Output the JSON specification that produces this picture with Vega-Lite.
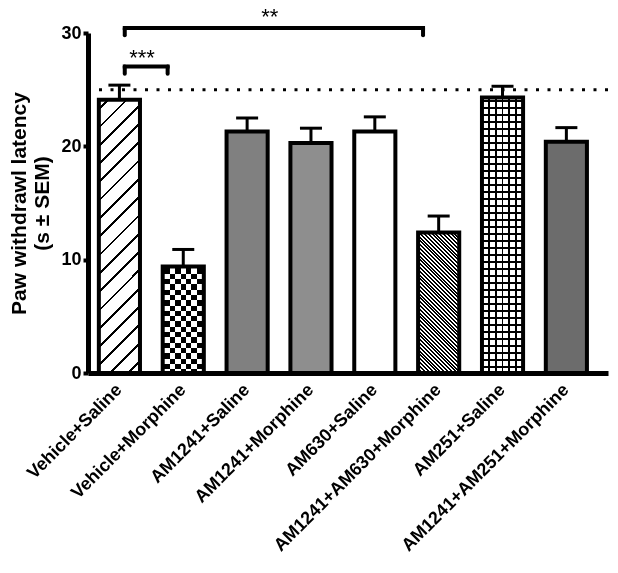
{
  "$schema": "https://vega.github.io/schema/vega-lite/v6.json",
  "width": 520,
  "height": 340,
  "autosize": {"type": "none"},
  "padding": {"left": 88, "top": 33, "right": 10, "bottom": 200},
  "background": "white",
  "config": {
    "view": {"stroke": null},
    "font": "Liberation Sans",
    "axis": {
      "domainColor": "black", "domainWidth": 5, "tickColor": "black",
      "labelColor": "black", "labelFont": "Liberation Sans", "labelFontWeight": "bold",
      "titleFont": "Liberation Sans", "titleFontWeight": "bold", "titleColor": "black", "grid": false
    },
    "axisX": {"labelAngle": -45, "labelAlign": "right", "labelBaseline": "middle", "labelFontSize": 18, "ticks": false, "labelPadding": 14, "labelOffset": 0, "labelLimit": 400},
    "axisY": {"tickSize": 5, "tickWidth": 4, "labelFontSize": 18, "labelPadding": 2, "titleFontSize": 21, "titlePadding": 8}
  },
  "datasets": {
    "groups": [
      {"group": "Vehicle+Saline", "mean": 24.1, "upper": 25.4},
      {"group": "Vehicle+Morphine", "mean": 9.4, "upper": 10.9},
      {"group": "AM1241+Saline", "mean": 21.3, "upper": 22.5},
      {"group": "AM1241+Morphine", "mean": 20.3, "upper": 21.6},
      {"group": "AM630+Saline", "mean": 21.3, "upper": 22.6},
      {"group": "AM1241+AM630+Morphine", "mean": 12.4, "upper": 13.85},
      {"group": "AM251+Saline", "mean": 24.3, "upper": 25.3},
      {"group": "AM1241+AM251+Morphine", "mean": 20.4, "upper": 21.65}
    ],
    "ref": [{"level": 25}],
    "brackets": [
      {"from": "Vehicle+Saline", "to": "Vehicle+Morphine", "top": 27.05, "end": 26.4, "stars": "***", "at": "Vehicle+Saline", "ty": 27.2},
      {"from": "Vehicle+Saline", "to": "AM1241+AM630+Morphine", "top": 30.45, "end": 29.8, "stars": "**", "at": "AM1241+Saline", "ty": 30.77}
    ]
  },
  "layer": [
    {
      "data": {"name": "ref"},
      "mark": {"type": "rule", "color": "black", "strokeWidth": 3, "strokeDash": [3, 8.5]},
      "encoding": {
        "y": {"field": "level", "type": "quantitative", "scale": {"domain": [0, 30], "nice": false}, "title": ["Paw withdrawl latency", "(s ± SEM)"]}
      }
    },
    {
      "data": {"name": "groups"},
      "mark": {"type": "rule", "color": "black", "strokeWidth": 3},
      "encoding": {
        "x": {"field": "group", "type": "nominal", "title": null, "sort": null},
        "y": {"field": "mean", "type": "quantitative", "title": ["Paw withdrawl latency", "(s ± SEM)"]},
        "y2": {"field": "upper"}
      }
    },
    {
      "data": {"name": "groups"},
      "mark": {"type": "bar", "strokeWidth": 0},
      "encoding": {
        "x": {"field": "group", "type": "nominal", "title": null, "sort": null, "scale": {"paddingInner": 0.356, "paddingOuter": 0.25, "align": 0.34}},
        "y": {"field": "mean", "type": "quantitative", "title": ["Paw withdrawl latency", "(s ± SEM)"]},
        "fill": {
          "field": "group", "type": "nominal", "legend": null,
          "scale": {
            "domain": ["Vehicle+Saline", "Vehicle+Morphine", "AM1241+Saline", "AM1241+Morphine", "AM630+Saline", "AM1241+AM630+Morphine", "AM251+Saline", "AM1241+AM251+Morphine"],
            "range": ["#ffffff", "#ffffff", "#808080", "#8e8e8e", "#ffffff", "#ffffff", "#ffffff", "#6c6c6c"]
          }
        }
      }
    },
    {
      "data": {"name": "groups"},
      "transform": [{"filter": "datum.group === 'Vehicle+Saline'"}],
      "mark": {"type": "bar", "strokeWidth": 0, "fill": {"gradient": "linear", "x1": 0, "y1": 0, "x2": 0.1694, "y2": 1.125, "stops": [
        {"offset": 0, "color": "#fff"},
        {"offset": 0.025, "color": "#fff"}, {"offset": 0.025, "color": "#000"}, {"offset": 0.034, "color": "#000"}, {"offset": 0.034, "color": "#fff"},
        {"offset": 0.084, "color": "#fff"}, {"offset": 0.084, "color": "#000"}, {"offset": 0.092, "color": "#000"}, {"offset": 0.092, "color": "#fff"},
        {"offset": 0.142, "color": "#fff"}, {"offset": 0.142, "color": "#000"}, {"offset": 0.151, "color": "#000"}, {"offset": 0.151, "color": "#fff"},
        {"offset": 0.200, "color": "#fff"}, {"offset": 0.200, "color": "#000"}, {"offset": 0.209, "color": "#000"}, {"offset": 0.209, "color": "#fff"},
        {"offset": 0.258, "color": "#fff"}, {"offset": 0.258, "color": "#000"}, {"offset": 0.267, "color": "#000"}, {"offset": 0.267, "color": "#fff"},
        {"offset": 0.317, "color": "#fff"}, {"offset": 0.317, "color": "#000"}, {"offset": 0.325, "color": "#000"}, {"offset": 0.325, "color": "#fff"},
        {"offset": 0.375, "color": "#fff"}, {"offset": 0.375, "color": "#000"}, {"offset": 0.383, "color": "#000"}, {"offset": 0.383, "color": "#fff"},
        {"offset": 0.433, "color": "#fff"}, {"offset": 0.433, "color": "#000"}, {"offset": 0.442, "color": "#000"}, {"offset": 0.442, "color": "#fff"},
        {"offset": 0.491, "color": "#fff"}, {"offset": 0.491, "color": "#000"}, {"offset": 0.500, "color": "#000"}, {"offset": 0.500, "color": "#fff"},
        {"offset": 0.550, "color": "#fff"}, {"offset": 0.550, "color": "#000"}, {"offset": 0.558, "color": "#000"}, {"offset": 0.558, "color": "#fff"},
        {"offset": 0.608, "color": "#fff"}, {"offset": 0.608, "color": "#000"}, {"offset": 0.616, "color": "#000"}, {"offset": 0.616, "color": "#fff"},
        {"offset": 0.666, "color": "#fff"}, {"offset": 0.666, "color": "#000"}, {"offset": 0.675, "color": "#000"}, {"offset": 0.675, "color": "#fff"},
        {"offset": 0.724, "color": "#fff"}, {"offset": 0.724, "color": "#000"}, {"offset": 0.733, "color": "#000"}, {"offset": 0.733, "color": "#fff"},
        {"offset": 0.783, "color": "#fff"}, {"offset": 0.783, "color": "#000"}, {"offset": 0.791, "color": "#000"}, {"offset": 0.791, "color": "#fff"},
        {"offset": 0.841, "color": "#fff"}, {"offset": 0.841, "color": "#000"}, {"offset": 0.849, "color": "#000"}, {"offset": 0.849, "color": "#fff"},
        {"offset": 0.899, "color": "#fff"}, {"offset": 0.899, "color": "#000"}, {"offset": 0.908, "color": "#000"}, {"offset": 0.908, "color": "#fff"},
        {"offset": 0.957, "color": "#fff"}, {"offset": 0.957, "color": "#000"}, {"offset": 0.966, "color": "#000"}, {"offset": 0.966, "color": "#fff"},
        {"offset": 1, "color": "#fff"}
      ]}},
      "encoding": {
        "x": {"field": "group", "type": "nominal", "title": null, "sort": null},
        "y": {"field": "mean", "type": "quantitative", "title": ["Paw withdrawl latency", "(s ± SEM)"]}
      }
    },
    {
      "data": {"name": "groups"},
      "transform": [{"filter": "datum.group === 'Vehicle+Morphine'"}],
      "mark": {"type": "bar", "strokeWidth": 0, "fill": {"gradient": "linear", "x1": 0, "y1": 0, "x2": 0, "y2": 1, "stops": [
        {"offset": 0, "color": "#fff"},
        {"offset": 0.0188, "color": "#fff"}, {"offset": 0.0188, "color": "#000"}, {"offset": 0.0685, "color": "#000"}, {"offset": 0.0685, "color": "#fff"},
        {"offset": 0.1183, "color": "#fff"}, {"offset": 0.1183, "color": "#000"}, {"offset": 0.1680, "color": "#000"}, {"offset": 0.1680, "color": "#fff"},
        {"offset": 0.2178, "color": "#fff"}, {"offset": 0.2178, "color": "#000"}, {"offset": 0.2675, "color": "#000"}, {"offset": 0.2675, "color": "#fff"},
        {"offset": 0.3173, "color": "#fff"}, {"offset": 0.3173, "color": "#000"}, {"offset": 0.3670, "color": "#000"}, {"offset": 0.3670, "color": "#fff"},
        {"offset": 0.4168, "color": "#fff"}, {"offset": 0.4168, "color": "#000"}, {"offset": 0.4665, "color": "#000"}, {"offset": 0.4665, "color": "#fff"},
        {"offset": 0.5163, "color": "#fff"}, {"offset": 0.5163, "color": "#000"}, {"offset": 0.5660, "color": "#000"}, {"offset": 0.5660, "color": "#fff"},
        {"offset": 0.6158, "color": "#fff"}, {"offset": 0.6158, "color": "#000"}, {"offset": 0.6655, "color": "#000"}, {"offset": 0.6655, "color": "#fff"},
        {"offset": 0.7153, "color": "#fff"}, {"offset": 0.7153, "color": "#000"}, {"offset": 0.7650, "color": "#000"}, {"offset": 0.7650, "color": "#fff"},
        {"offset": 0.8148, "color": "#fff"}, {"offset": 0.8148, "color": "#000"}, {"offset": 0.8645, "color": "#000"}, {"offset": 0.8645, "color": "#fff"},
        {"offset": 0.9143, "color": "#fff"}, {"offset": 0.9143, "color": "#000"}, {"offset": 0.9640, "color": "#000"}, {"offset": 0.9640, "color": "#fff"},
        {"offset": 1, "color": "#fff"}
      ]}},
      "encoding": {
        "x": {"field": "group", "type": "nominal", "title": null, "sort": null},
        "y": {"field": "mean", "type": "quantitative", "title": ["Paw withdrawl latency", "(s ± SEM)"]}
      }
    },
    {
      "data": {"name": "groups"},
      "transform": [{"filter": "datum.group === 'Vehicle+Morphine'"}],
      "mark": {"type": "bar", "strokeWidth": 0, "blend": "difference", "fill": {"gradient": "linear", "x1": 0, "y1": 0, "x2": 1, "y2": 0, "stops": [
        {"offset": 0, "color": "rgba(255,255,255,0)"},
        {"offset": 0.1775, "color": "rgba(255,255,255,0)"}, {"offset": 0.1775, "color": "#fff"}, {"offset": 0.3064, "color": "#fff"}, {"offset": 0.3064, "color": "rgba(255,255,255,0)"},
        {"offset": 0.4353, "color": "rgba(255,255,255,0)"}, {"offset": 0.4353, "color": "#fff"}, {"offset": 0.5642, "color": "#fff"}, {"offset": 0.5642, "color": "rgba(255,255,255,0)"},
        {"offset": 0.6931, "color": "rgba(255,255,255,0)"}, {"offset": 0.6931, "color": "#fff"}, {"offset": 0.8220, "color": "#fff"}, {"offset": 0.8220, "color": "rgba(255,255,255,0)"},
        {"offset": 0.9509, "color": "rgba(255,255,255,0)"}, {"offset": 0.9509, "color": "#fff"}, {"offset": 1, "color": "#fff"}
      ]}},
      "encoding": {
        "x": {"field": "group", "type": "nominal", "title": null, "sort": null},
        "y": {"field": "mean", "type": "quantitative", "title": ["Paw withdrawl latency", "(s ± SEM)"]}
      }
    },
    {
      "data": {"name": "groups"},
      "transform": [{"filter": "datum.group === 'AM1241+AM630+Morphine'"}],
      "mark": {"type": "bar", "strokeWidth": 0, "fill": {"gradient": "linear", "x1": 0, "y1": 1, "x2": 0.3484, "y2": -0.1907, "stops": [
        {"offset": 0, "color": "#000"}, {"offset": 0.0105, "color": "#000"}, {"offset": 0.0105, "color": "#fff"},
        {"offset": 0.0209, "color": "#fff"}, {"offset": 0.0209, "color": "#000"}, {"offset": 0.0314, "color": "#000"}, {"offset": 0.0314, "color": "#fff"},
        {"offset": 0.0418, "color": "#fff"}, {"offset": 0.0418, "color": "#000"}, {"offset": 0.0523, "color": "#000"}, {"offset": 0.0523, "color": "#fff"},
        {"offset": 0.0628, "color": "#fff"}, {"offset": 0.0628, "color": "#000"}, {"offset": 0.0732, "color": "#000"}, {"offset": 0.0732, "color": "#fff"},
        {"offset": 0.0837, "color": "#fff"}, {"offset": 0.0837, "color": "#000"}, {"offset": 0.0941, "color": "#000"}, {"offset": 0.0941, "color": "#fff"},
        {"offset": 0.1046, "color": "#fff"}, {"offset": 0.1046, "color": "#000"}, {"offset": 0.1151, "color": "#000"}, {"offset": 0.1151, "color": "#fff"},
        {"offset": 0.1255, "color": "#fff"}, {"offset": 0.1255, "color": "#000"}, {"offset": 0.1360, "color": "#000"}, {"offset": 0.1360, "color": "#fff"},
        {"offset": 0.1464, "color": "#fff"}, {"offset": 0.1464, "color": "#000"}, {"offset": 0.1569, "color": "#000"}, {"offset": 0.1569, "color": "#fff"},
        {"offset": 0.1674, "color": "#fff"}, {"offset": 0.1674, "color": "#000"}, {"offset": 0.1778, "color": "#000"}, {"offset": 0.1778, "color": "#fff"},
        {"offset": 0.1883, "color": "#fff"}, {"offset": 0.1883, "color": "#000"}, {"offset": 0.1987, "color": "#000"}, {"offset": 0.1987, "color": "#fff"},
        {"offset": 0.2092, "color": "#fff"}, {"offset": 0.2092, "color": "#000"}, {"offset": 0.2197, "color": "#000"}, {"offset": 0.2197, "color": "#fff"},
        {"offset": 0.2301, "color": "#fff"}, {"offset": 0.2301, "color": "#000"}, {"offset": 0.2406, "color": "#000"}, {"offset": 0.2406, "color": "#fff"},
        {"offset": 0.2510, "color": "#fff"}, {"offset": 0.2510, "color": "#000"}, {"offset": 0.2615, "color": "#000"}, {"offset": 0.2615, "color": "#fff"},
        {"offset": 0.2719, "color": "#fff"}, {"offset": 0.2719, "color": "#000"}, {"offset": 0.2824, "color": "#000"}, {"offset": 0.2824, "color": "#fff"},
        {"offset": 0.2929, "color": "#fff"}, {"offset": 0.2929, "color": "#000"}, {"offset": 0.3033, "color": "#000"}, {"offset": 0.3033, "color": "#fff"},
        {"offset": 0.3138, "color": "#fff"}, {"offset": 0.3138, "color": "#000"}, {"offset": 0.3242, "color": "#000"}, {"offset": 0.3242, "color": "#fff"},
        {"offset": 0.3347, "color": "#fff"}, {"offset": 0.3347, "color": "#000"}, {"offset": 0.3452, "color": "#000"}, {"offset": 0.3452, "color": "#fff"},
        {"offset": 0.3556, "color": "#fff"}, {"offset": 0.3556, "color": "#000"}, {"offset": 0.3661, "color": "#000"}, {"offset": 0.3661, "color": "#fff"},
        {"offset": 0.3765, "color": "#fff"}, {"offset": 0.3765, "color": "#000"}, {"offset": 0.3870, "color": "#000"}, {"offset": 0.3870, "color": "#fff"},
        {"offset": 0.3975, "color": "#fff"}, {"offset": 0.3975, "color": "#000"}, {"offset": 0.4079, "color": "#000"}, {"offset": 0.4079, "color": "#fff"},
        {"offset": 0.4184, "color": "#fff"}, {"offset": 0.4184, "color": "#000"}, {"offset": 0.4288, "color": "#000"}, {"offset": 0.4288, "color": "#fff"},
        {"offset": 0.4393, "color": "#fff"}, {"offset": 0.4393, "color": "#000"}, {"offset": 0.4497, "color": "#000"}, {"offset": 0.4497, "color": "#fff"},
        {"offset": 0.4602, "color": "#fff"}, {"offset": 0.4602, "color": "#000"}, {"offset": 0.4707, "color": "#000"}, {"offset": 0.4707, "color": "#fff"},
        {"offset": 0.4811, "color": "#fff"}, {"offset": 0.4811, "color": "#000"}, {"offset": 0.4916, "color": "#000"}, {"offset": 0.4916, "color": "#fff"},
        {"offset": 0.5021, "color": "#fff"}, {"offset": 0.5021, "color": "#000"}, {"offset": 0.5125, "color": "#000"}, {"offset": 0.5125, "color": "#fff"},
        {"offset": 0.5230, "color": "#fff"}, {"offset": 0.5230, "color": "#000"}, {"offset": 0.5334, "color": "#000"}, {"offset": 0.5334, "color": "#fff"},
        {"offset": 0.5439, "color": "#fff"}, {"offset": 0.5439, "color": "#000"}, {"offset": 0.5543, "color": "#000"}, {"offset": 0.5543, "color": "#fff"},
        {"offset": 0.5648, "color": "#fff"}, {"offset": 0.5648, "color": "#000"}, {"offset": 0.5753, "color": "#000"}, {"offset": 0.5753, "color": "#fff"},
        {"offset": 0.5857, "color": "#fff"}, {"offset": 0.5857, "color": "#000"}, {"offset": 0.5962, "color": "#000"}, {"offset": 0.5962, "color": "#fff"},
        {"offset": 0.6067, "color": "#fff"}, {"offset": 0.6067, "color": "#000"}, {"offset": 0.6171, "color": "#000"}, {"offset": 0.6171, "color": "#fff"},
        {"offset": 0.6276, "color": "#fff"}, {"offset": 0.6276, "color": "#000"}, {"offset": 0.6380, "color": "#000"}, {"offset": 0.6380, "color": "#fff"},
        {"offset": 0.6485, "color": "#fff"}, {"offset": 0.6485, "color": "#000"}, {"offset": 0.6589, "color": "#000"}, {"offset": 0.6589, "color": "#fff"},
        {"offset": 0.6694, "color": "#fff"}, {"offset": 0.6694, "color": "#000"}, {"offset": 0.6799, "color": "#000"}, {"offset": 0.6799, "color": "#fff"},
        {"offset": 0.6903, "color": "#fff"}, {"offset": 0.6903, "color": "#000"}, {"offset": 0.7008, "color": "#000"}, {"offset": 0.7008, "color": "#fff"},
        {"offset": 0.7112, "color": "#fff"}, {"offset": 0.7112, "color": "#000"}, {"offset": 0.7217, "color": "#000"}, {"offset": 0.7217, "color": "#fff"},
        {"offset": 0.7322, "color": "#fff"}, {"offset": 0.7322, "color": "#000"}, {"offset": 0.7426, "color": "#000"}, {"offset": 0.7426, "color": "#fff"},
        {"offset": 0.7531, "color": "#fff"}, {"offset": 0.7531, "color": "#000"}, {"offset": 0.7635, "color": "#000"}, {"offset": 0.7635, "color": "#fff"},
        {"offset": 0.7740, "color": "#fff"}, {"offset": 0.7740, "color": "#000"}, {"offset": 0.7844, "color": "#000"}, {"offset": 0.7844, "color": "#fff"},
        {"offset": 0.7949, "color": "#fff"}, {"offset": 0.7949, "color": "#000"}, {"offset": 0.8054, "color": "#000"}, {"offset": 0.8054, "color": "#fff"},
        {"offset": 0.8158, "color": "#fff"}, {"offset": 0.8158, "color": "#000"}, {"offset": 0.8263, "color": "#000"}, {"offset": 0.8263, "color": "#fff"},
        {"offset": 0.8368, "color": "#fff"}, {"offset": 0.8368, "color": "#000"}, {"offset": 0.8472, "color": "#000"}, {"offset": 0.8472, "color": "#fff"},
        {"offset": 0.8577, "color": "#fff"}, {"offset": 0.8577, "color": "#000"}, {"offset": 0.8681, "color": "#000"}, {"offset": 0.8681, "color": "#fff"},
        {"offset": 0.8786, "color": "#fff"}, {"offset": 0.8786, "color": "#000"}, {"offset": 0.8891, "color": "#000"}, {"offset": 0.8891, "color": "#fff"},
        {"offset": 0.8995, "color": "#fff"}, {"offset": 0.8995, "color": "#000"}, {"offset": 0.9100, "color": "#000"}, {"offset": 0.9100, "color": "#fff"},
        {"offset": 0.9204, "color": "#fff"}, {"offset": 0.9204, "color": "#000"}, {"offset": 0.9309, "color": "#000"}, {"offset": 0.9309, "color": "#fff"},
        {"offset": 0.9414, "color": "#fff"}, {"offset": 0.9414, "color": "#000"}, {"offset": 0.9518, "color": "#000"}, {"offset": 0.9518, "color": "#fff"},
        {"offset": 0.9623, "color": "#fff"}, {"offset": 0.9623, "color": "#000"}, {"offset": 0.9727, "color": "#000"}, {"offset": 0.9727, "color": "#fff"},
        {"offset": 0.9832, "color": "#fff"}, {"offset": 0.9832, "color": "#000"}, {"offset": 0.9936, "color": "#000"}, {"offset": 0.9936, "color": "#fff"},
        {"offset": 1, "color": "#fff"}
      ]}},
      "encoding": {
        "x": {"field": "group", "type": "nominal", "title": null, "sort": null},
        "y": {"field": "mean", "type": "quantitative", "title": ["Paw withdrawl latency", "(s ± SEM)"]}
      }
    },
    {
      "data": {"name": "groups"},
      "transform": [{"filter": "datum.group === 'AM251+Saline'"}],
      "mark": {"type": "bar", "strokeWidth": 0, "fill": {"gradient": "linear", "x1": 0, "y1": 0, "x2": 0, "y2": 1, "stops": [
        {"offset": 0, "color": "#fff"},
        {"offset": 0.0094, "color": "#fff"}, {"offset": 0.0094, "color": "#000"}, {"offset": 0.0160, "color": "#000"}, {"offset": 0.0160, "color": "#fff"},
        {"offset": 0.0349, "color": "#fff"}, {"offset": 0.0349, "color": "#000"}, {"offset": 0.0414, "color": "#000"}, {"offset": 0.0414, "color": "#fff"},
        {"offset": 0.0603, "color": "#fff"}, {"offset": 0.0603, "color": "#000"}, {"offset": 0.0668, "color": "#000"}, {"offset": 0.0668, "color": "#fff"},
        {"offset": 0.0857, "color": "#fff"}, {"offset": 0.0857, "color": "#000"}, {"offset": 0.0922, "color": "#000"}, {"offset": 0.0922, "color": "#fff"},
        {"offset": 0.1111, "color": "#fff"}, {"offset": 0.1111, "color": "#000"}, {"offset": 0.1177, "color": "#000"}, {"offset": 0.1177, "color": "#fff"},
        {"offset": 0.1365, "color": "#fff"}, {"offset": 0.1365, "color": "#000"}, {"offset": 0.1431, "color": "#000"}, {"offset": 0.1431, "color": "#fff"},
        {"offset": 0.1619, "color": "#fff"}, {"offset": 0.1619, "color": "#000"}, {"offset": 0.1685, "color": "#000"}, {"offset": 0.1685, "color": "#fff"},
        {"offset": 0.1874, "color": "#fff"}, {"offset": 0.1874, "color": "#000"}, {"offset": 0.1939, "color": "#000"}, {"offset": 0.1939, "color": "#fff"},
        {"offset": 0.2128, "color": "#fff"}, {"offset": 0.2128, "color": "#000"}, {"offset": 0.2193, "color": "#000"}, {"offset": 0.2193, "color": "#fff"},
        {"offset": 0.2382, "color": "#fff"}, {"offset": 0.2382, "color": "#000"}, {"offset": 0.2447, "color": "#000"}, {"offset": 0.2447, "color": "#fff"},
        {"offset": 0.2636, "color": "#fff"}, {"offset": 0.2636, "color": "#000"}, {"offset": 0.2702, "color": "#000"}, {"offset": 0.2702, "color": "#fff"},
        {"offset": 0.2890, "color": "#fff"}, {"offset": 0.2890, "color": "#000"}, {"offset": 0.2956, "color": "#000"}, {"offset": 0.2956, "color": "#fff"},
        {"offset": 0.3145, "color": "#fff"}, {"offset": 0.3145, "color": "#000"}, {"offset": 0.3210, "color": "#000"}, {"offset": 0.3210, "color": "#fff"},
        {"offset": 0.3399, "color": "#fff"}, {"offset": 0.3399, "color": "#000"}, {"offset": 0.3464, "color": "#000"}, {"offset": 0.3464, "color": "#fff"},
        {"offset": 0.3653, "color": "#fff"}, {"offset": 0.3653, "color": "#000"}, {"offset": 0.3718, "color": "#000"}, {"offset": 0.3718, "color": "#fff"},
        {"offset": 0.3907, "color": "#fff"}, {"offset": 0.3907, "color": "#000"}, {"offset": 0.3973, "color": "#000"}, {"offset": 0.3973, "color": "#fff"},
        {"offset": 0.4161, "color": "#fff"}, {"offset": 0.4161, "color": "#000"}, {"offset": 0.4227, "color": "#000"}, {"offset": 0.4227, "color": "#fff"},
        {"offset": 0.4416, "color": "#fff"}, {"offset": 0.4416, "color": "#000"}, {"offset": 0.4481, "color": "#000"}, {"offset": 0.4481, "color": "#fff"},
        {"offset": 0.4670, "color": "#fff"}, {"offset": 0.4670, "color": "#000"}, {"offset": 0.4735, "color": "#000"}, {"offset": 0.4735, "color": "#fff"},
        {"offset": 0.4924, "color": "#fff"}, {"offset": 0.4924, "color": "#000"}, {"offset": 0.4989, "color": "#000"}, {"offset": 0.4989, "color": "#fff"},
        {"offset": 0.5178, "color": "#fff"}, {"offset": 0.5178, "color": "#000"}, {"offset": 0.5244, "color": "#000"}, {"offset": 0.5244, "color": "#fff"},
        {"offset": 0.5432, "color": "#fff"}, {"offset": 0.5432, "color": "#000"}, {"offset": 0.5498, "color": "#000"}, {"offset": 0.5498, "color": "#fff"},
        {"offset": 0.5686, "color": "#fff"}, {"offset": 0.5686, "color": "#000"}, {"offset": 0.5752, "color": "#000"}, {"offset": 0.5752, "color": "#fff"},
        {"offset": 0.5941, "color": "#fff"}, {"offset": 0.5941, "color": "#000"}, {"offset": 0.6006, "color": "#000"}, {"offset": 0.6006, "color": "#fff"},
        {"offset": 0.6195, "color": "#fff"}, {"offset": 0.6195, "color": "#000"}, {"offset": 0.6260, "color": "#000"}, {"offset": 0.6260, "color": "#fff"},
        {"offset": 0.6449, "color": "#fff"}, {"offset": 0.6449, "color": "#000"}, {"offset": 0.6514, "color": "#000"}, {"offset": 0.6514, "color": "#fff"},
        {"offset": 0.6703, "color": "#fff"}, {"offset": 0.6703, "color": "#000"}, {"offset": 0.6769, "color": "#000"}, {"offset": 0.6769, "color": "#fff"},
        {"offset": 0.6957, "color": "#fff"}, {"offset": 0.6957, "color": "#000"}, {"offset": 0.7023, "color": "#000"}, {"offset": 0.7023, "color": "#fff"},
        {"offset": 0.7212, "color": "#fff"}, {"offset": 0.7212, "color": "#000"}, {"offset": 0.7277, "color": "#000"}, {"offset": 0.7277, "color": "#fff"},
        {"offset": 0.7466, "color": "#fff"}, {"offset": 0.7466, "color": "#000"}, {"offset": 0.7531, "color": "#000"}, {"offset": 0.7531, "color": "#fff"},
        {"offset": 0.7720, "color": "#fff"}, {"offset": 0.7720, "color": "#000"}, {"offset": 0.7785, "color": "#000"}, {"offset": 0.7785, "color": "#fff"},
        {"offset": 0.7974, "color": "#fff"}, {"offset": 0.7974, "color": "#000"}, {"offset": 0.8040, "color": "#000"}, {"offset": 0.8040, "color": "#fff"},
        {"offset": 0.8228, "color": "#fff"}, {"offset": 0.8228, "color": "#000"}, {"offset": 0.8294, "color": "#000"}, {"offset": 0.8294, "color": "#fff"},
        {"offset": 0.8482, "color": "#fff"}, {"offset": 0.8482, "color": "#000"}, {"offset": 0.8548, "color": "#000"}, {"offset": 0.8548, "color": "#fff"},
        {"offset": 0.8737, "color": "#fff"}, {"offset": 0.8737, "color": "#000"}, {"offset": 0.8802, "color": "#000"}, {"offset": 0.8802, "color": "#fff"},
        {"offset": 0.8991, "color": "#fff"}, {"offset": 0.8991, "color": "#000"}, {"offset": 0.9056, "color": "#000"}, {"offset": 0.9056, "color": "#fff"},
        {"offset": 0.9245, "color": "#fff"}, {"offset": 0.9245, "color": "#000"}, {"offset": 0.9310, "color": "#000"}, {"offset": 0.9310, "color": "#fff"},
        {"offset": 0.9499, "color": "#fff"}, {"offset": 0.9499, "color": "#000"}, {"offset": 0.9565, "color": "#000"}, {"offset": 0.9565, "color": "#fff"},
        {"offset": 0.9753, "color": "#fff"}, {"offset": 0.9753, "color": "#000"}, {"offset": 0.9819, "color": "#000"}, {"offset": 0.9819, "color": "#fff"},
        {"offset": 1, "color": "#fff"}
      ]}},
      "encoding": {
        "x": {"field": "group", "type": "nominal", "title": null, "sort": null},
        "y": {"field": "mean", "type": "quantitative", "title": ["Paw withdrawl latency", "(s ± SEM)"]}
      }
    },
    {
      "data": {"name": "groups"},
      "transform": [{"filter": "datum.group === 'AM251+Saline'"}],
      "mark": {"type": "bar", "strokeWidth": 0, "fill": {"gradient": "linear", "x1": 0, "y1": 0, "x2": 1, "y2": 0, "stops": [
        {"offset": 0, "color": "rgba(0,0,0,0)"},
        {"offset": 0.1448, "color": "rgba(0,0,0,0)"}, {"offset": 0.1448, "color": "#000"}, {"offset": 0.1886, "color": "#000"}, {"offset": 0.1886, "color": "rgba(0,0,0,0)"},
        {"offset": 0.3114, "color": "rgba(0,0,0,0)"}, {"offset": 0.3114, "color": "#000"}, {"offset": 0.3552, "color": "#000"}, {"offset": 0.3552, "color": "rgba(0,0,0,0)"},
        {"offset": 0.4781, "color": "rgba(0,0,0,0)"}, {"offset": 0.4781, "color": "#000"}, {"offset": 0.5219, "color": "#000"}, {"offset": 0.5219, "color": "rgba(0,0,0,0)"},
        {"offset": 0.6448, "color": "rgba(0,0,0,0)"}, {"offset": 0.6448, "color": "#000"}, {"offset": 0.6886, "color": "#000"}, {"offset": 0.6886, "color": "rgba(0,0,0,0)"},
        {"offset": 0.8114, "color": "rgba(0,0,0,0)"}, {"offset": 0.8114, "color": "#000"}, {"offset": 0.8552, "color": "#000"}, {"offset": 0.8552, "color": "rgba(0,0,0,0)"},
        {"offset": 1, "color": "rgba(0,0,0,0)"}
      ]}},
      "encoding": {
        "x": {"field": "group", "type": "nominal", "title": null, "sort": null},
        "y": {"field": "mean", "type": "quantitative", "title": ["Paw withdrawl latency", "(s ± SEM)"]}
      }
    },
    {
      "data": {"name": "groups"},
      "mark": {"type": "bar", "filled": false, "stroke": "black", "strokeWidth": 4, "strokeJoin": "miter"},
      "encoding": {
        "x": {"field": "group", "type": "nominal", "title": null, "sort": null, "axis": {"domainWidth": 5}},
        "y": {"field": "mean", "type": "quantitative", "title": ["Paw withdrawl latency", "(s ± SEM)"], "axis": {"values": [0, 10, 20, 30], "domainWidth": 5}}
      }
    },
    {
      "data": {"name": "groups"},
      "mark": {"type": "tick", "orient": "horizontal", "size": 22, "thickness": 3, "color": "black", "opacity": 1},
      "encoding": {
        "x": {"field": "group", "type": "nominal", "title": null, "sort": null},
        "y": {"field": "upper", "type": "quantitative", "title": ["Paw withdrawl latency", "(s ± SEM)"]}
      }
    },
    {
      "data": {"name": "brackets"},
      "mark": {"type": "rule", "color": "black", "strokeWidth": 4, "strokeCap": "square"},
      "encoding": {
        "x": {"field": "from", "type": "nominal", "title": null, "sort": null, "bandPosition": 0.63},
        "x2": {"field": "to", "bandPosition": 0.12},
        "y": {"field": "top", "type": "quantitative", "title": ["Paw withdrawl latency", "(s ± SEM)"]}
      }
    },
    {
      "data": {"name": "brackets"},
      "mark": {"type": "rule", "color": "black", "strokeWidth": 4, "strokeCap": "round"},
      "encoding": {
        "x": {"field": "from", "type": "nominal", "title": null, "sort": null, "bandPosition": 0.63},
        "y": {"field": "top", "type": "quantitative", "title": ["Paw withdrawl latency", "(s ± SEM)"]},
        "y2": {"field": "end"}
      }
    },
    {
      "data": {"name": "brackets"},
      "mark": {"type": "rule", "color": "black", "strokeWidth": 4, "strokeCap": "round"},
      "encoding": {
        "x": {"field": "to", "type": "nominal", "title": null, "sort": null, "bandPosition": 0.12},
        "y": {"field": "top", "type": "quantitative", "title": ["Paw withdrawl latency", "(s ± SEM)"]},
        "y2": {"field": "end"}
      }
    },
    {
      "data": {"name": "brackets"},
      "mark": {"type": "text", "fontSize": 22, "font": "Liberation Sans", "color": "black", "baseline": "alphabetic", "align": "center"},
      "encoding": {
        "x": {"field": "at", "type": "nominal", "title": null, "sort": null, "bandPosition": 1.05},
        "y": {"field": "ty", "type": "quantitative", "title": ["Paw withdrawl latency", "(s ± SEM)"]},
        "text": {"field": "stars"}
      }
    }
  ]
}
